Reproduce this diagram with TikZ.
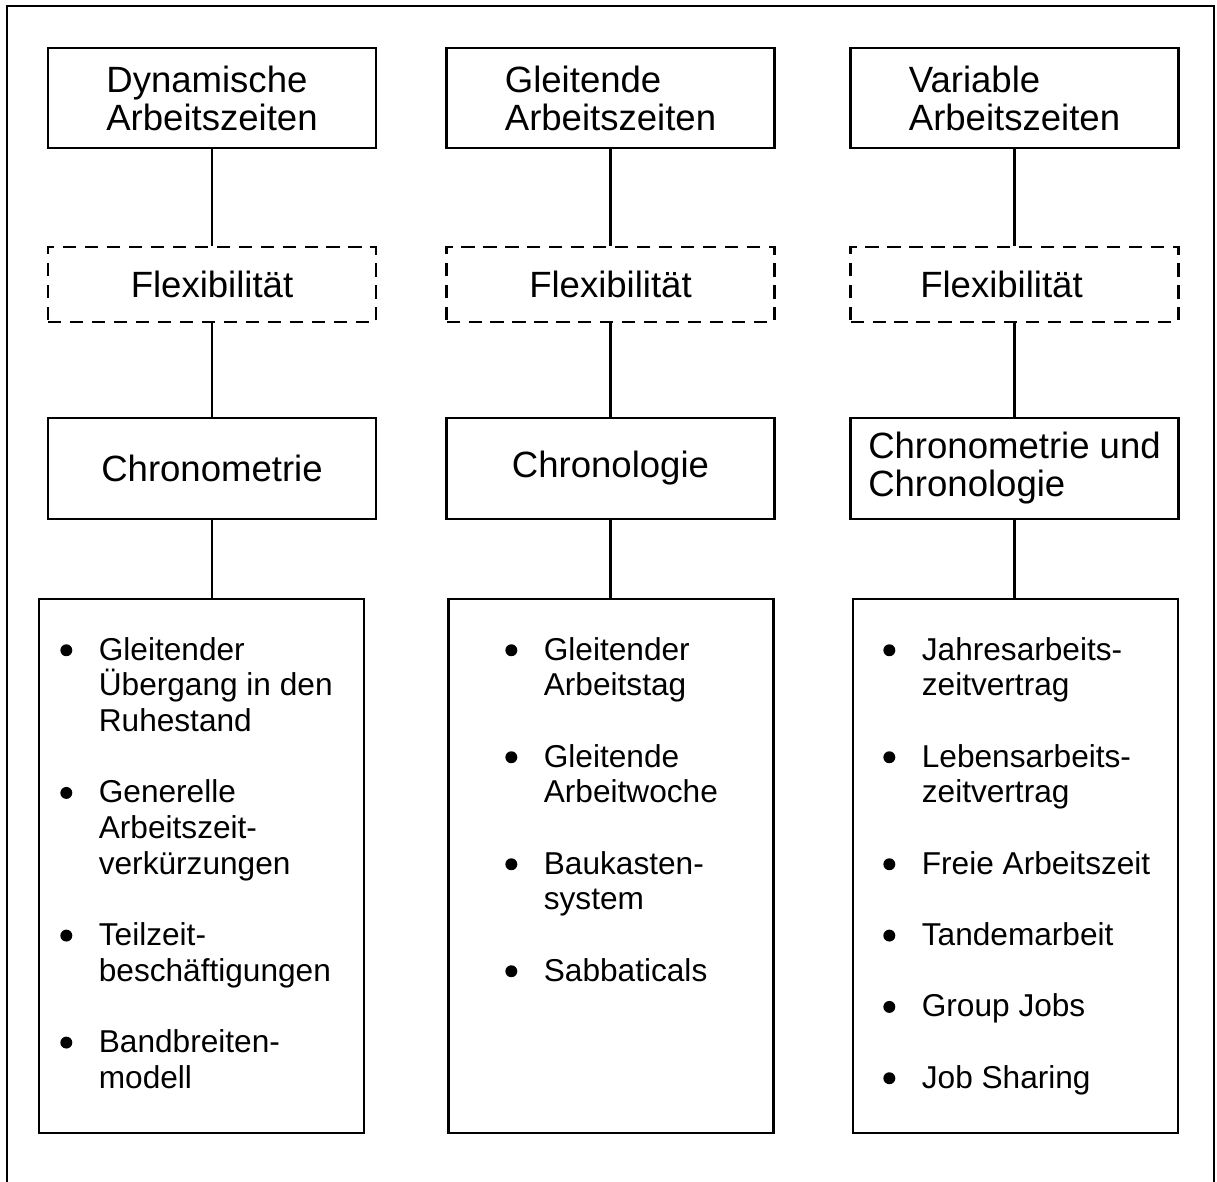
\documentclass[tikz,border=0pt]{standalone}
\usepackage{fontspec}
\setmainfont{Liberation Sans}
\usetikzlibrary{calc,positioning}

\newcommand{\voce}[1]{\makebox[0.77cm][l]{\tikz[baseline=-5.7pt]\fill (3.4pt,0) circle (3.4pt);}#1}%punto elenco
\newcommand{\segue}{\hspace*{0.77cm}}%riga successiva

\begin{document}
\begin{tikzpicture}[x=0.02cm,y=-0.02cm,
  titolo/.style={draw, line width=1.3pt, minimum width=6.56cm, minimum height=2cm,
    inner sep=0pt, align=left, font=\fontsize{20.8}{21.6}\selectfont},
  flex/.style={titolo, dash pattern=on 7.5pt off 5pt, minimum height=1.5cm},
  crono/.style={titolo, minimum height=2.02cm},
  lista/.style={draw, line width=1.3pt, minimum width=6.5cm, minimum height=10.68cm, inner sep=0pt},
  voci/.style={anchor=north west, inner sep=0pt, align=left, font=\fontsize{18}{20.3}\selectfont},
  linea/.style={line width=1.3pt}]

  \useasboundingbox (0,0) rectangle (1217,1182);%area della figura
  \draw [linea] (7,1182) -- (7,6) -- (1214,6) -- (1214,1182);%cornice aperta in basso

  \node [titolo] (din) at (212,98) {Dynamische\\Arbeitszeiten};%prima colonna
  \node [titolo] (gle) at (610.5,98) {Gleitende\\Arbeitszeiten};%seconda colonna
  \node [titolo] (var) at (1014.5,98) {Variable\\Arbeitszeiten};%terza colonna

  \node [flex] (fl1) at (212,284.5) {Flexibilität};
  \node [flex] (fl2) at (610.5,284.5) {Flexibilität};
  \node [flex] (fl3) at (1014.5,284.5) {Flexibilität\hspace{0.52cm}};

  \node [crono] (cm) at (212,468.5) {Chronometrie};
  \node [crono] (cl) at (610.5,468.5) {Chronologie};
  \node [crono] (cc) at (1014.5,468.5) {Chronometrie und\\Chronologie};

  \node [lista] (l1) at (201.5,866) {};
  \node [lista] (l2) at (611,866) {};
  \node [lista] (l3) at (1015.5,866) {};

  \node [voci] (v1) at (60,637) {\voce{Gleitender}\\\segue Übergang in den\\\segue Ruhestand\\[20.3pt]
    \voce{Generelle}\\\segue Arbeitszeit-\\\segue verkürzungen\\[20.3pt]
    \voce{Teilzeit-}\\\segue beschäftigungen\\[20.3pt]
    \voce{Bandbreiten-}\\\segue modell};
  \node [voci] (v2) at (505,637) {\voce{Gleitender}\\\segue Arbeitstag\\[20.3pt]
    \voce{Gleitende}\\\segue Arbeitwoche\\[20.3pt]
    \voce{Baukasten-}\\\segue system\\[20.3pt]
    \voce{Sabbaticals}};
  \node [voci] (v3) at (883,637) {\voce{Jahresarbeits-}\\\segue zeitvertrag\\[20.3pt]
    \voce{Lebensarbeits-}\\\segue zeitvertrag\\[20.3pt]
    \voce{Freie Arbeitszeit}\\[20.3pt]
    \voce{Tandemarbeit}\\[20.3pt]
    \voce{Group Jobs}\\[20.3pt]
    \voce{Job Sharing}};

  \draw [linea] (din) -- (fl1);
  \draw [linea] (gle) -- (fl2);
  \draw [linea] (var) -- (fl3);
  \draw [linea] (fl1) -- (cm);
  \draw [linea] (fl2) -- (cl);
  \draw [linea] (fl3) -- (cc);
  \draw [linea] (cm.south) -- (cm.south |- l1.north);
  \draw [linea] (cl.south) -- (cl.south |- l2.north);
  \draw [linea] (cc.south) -- (cc.south |- l3.north);
\end{tikzpicture}
\end{document}
